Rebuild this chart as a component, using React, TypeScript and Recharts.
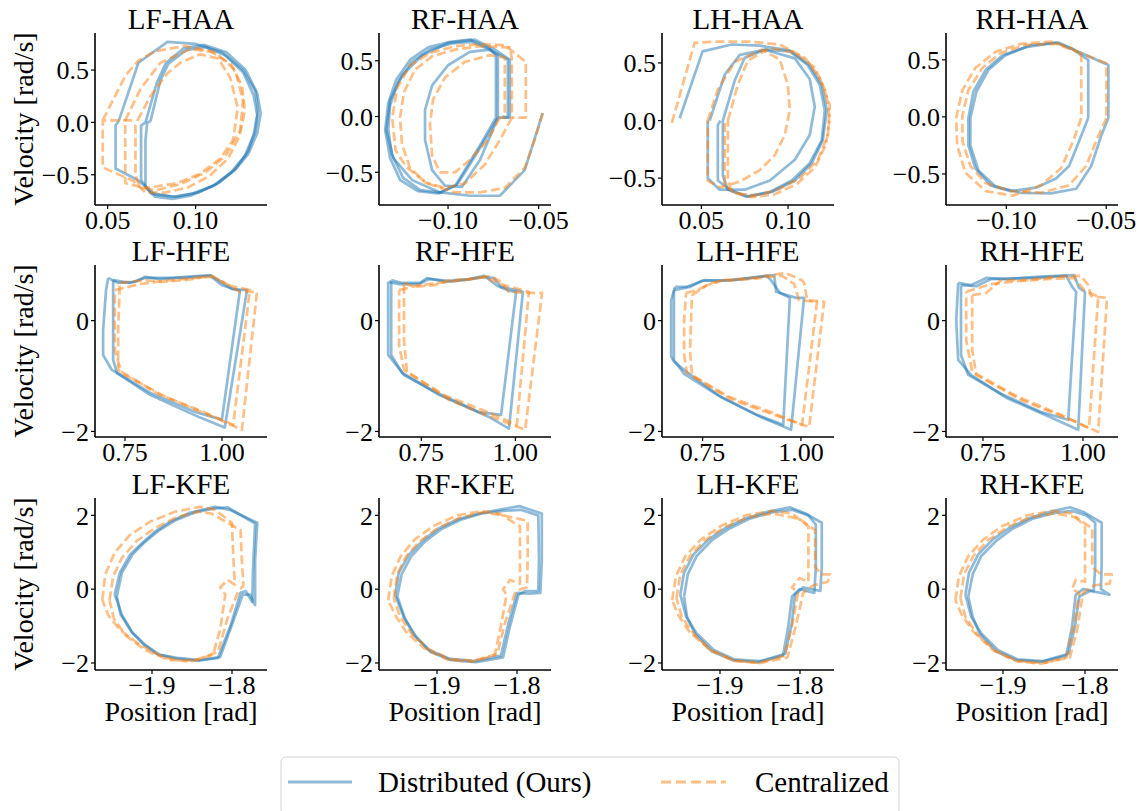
import React from 'react';
import { ScatterChart, Scatter, XAxis, YAxis } from 'recharts';

type P = [number, number];

const FONT = '"Liberation Serif", "Times New Roman", serif';
const BLUE = '#1f77b4';
const ORANGE = '#ff7f0e';

const TITLES = ['LF-HAA', 'RF-HAA', 'LH-HAA', 'RH-HAA', 'LF-HFE', 'RF-HFE', 'LH-HFE', 'RH-HFE', 'LF-KFE', 'RF-KFE', 'LH-KFE', 'RH-KFE'];
const SERIES_NAMES = ['Distributed (Ours)', 'Centralized'];
const Y_LABEL = 'Velocity [rad/s]';
const X_LABEL = 'Position [rad]';

// ---------- HAA ----------
const LF_HAA_dist: P[][] = [
  [[0.0562,0.01],[0.0675,0.57],[0.084,0.77],[0.0998,0.75],[0.115,0.67],[0.127,0.50],[0.134,0.30],[0.1355,0.11],[0.134,-0.08],[0.130,-0.27],[0.123,-0.44],[0.113,-0.58],[0.1015,-0.67],[0.089,-0.71],[0.077,-0.69],[0.067,-0.55],[0.0545,-0.44],[0.0545,-0.03],[0.0562,0.01]],
  [[0.0743,0.01],[0.080,0.40],[0.0845,0.56],[0.0945,0.69],[0.1055,0.72],[0.117,0.64],[0.127,0.48],[0.133,0.26],[0.135,0.07],[0.133,-0.12],[0.128,-0.32],[0.120,-0.48],[0.1095,-0.61],[0.097,-0.70],[0.087,-0.73],[0.077,-0.71],[0.0715,-0.62],[0.0715,-0.17],[0.0725,0.0],[0.0743,0.01]],
  [[0.0715,0.0],[0.078,0.38],[0.0832,0.57],[0.0934,0.71],[0.105,0.74],[0.1175,0.67],[0.1285,0.50],[0.135,0.28],[0.137,0.085],[0.135,-0.105],[0.130,-0.30],[0.122,-0.46],[0.111,-0.60],[0.098,-0.68],[0.087,-0.71],[0.0745,-0.675],[0.069,-0.55],[0.069,-0.03],[0.0715,0.0]],
];
const LF_HAA_cent: P[][] = [
  [[0.0472,0.02],[0.0602,0.45],[0.0675,0.59],[0.077,0.68],[0.094,0.73],[0.1083,0.68],[0.120,0.56],[0.1264,0.35],[0.128,0.11],[0.125,-0.13],[0.1185,-0.345],[0.108,-0.51],[0.0958,-0.62],[0.0828,-0.67],[0.0715,-0.67],[0.0647,-0.56],[0.0472,-0.43],[0.0472,0.02],[0.066,0.02]],
  [[0.067,0.02],[0.0743,0.25],[0.084,0.47],[0.0913,0.57],[0.1026,0.65],[0.1128,0.61],[0.1196,0.43],[0.124,0.14],[0.1213,-0.17],[0.114,-0.345],[0.1026,-0.49],[0.0896,-0.58],[0.0783,-0.61],[0.0687,-0.63],[0.0658,-0.51],[0.0658,-0.03],[0.067,0.02]],
  [[0.060,0.02],[0.0687,0.32],[0.080,0.57],[0.097,0.70],[0.111,0.67],[0.1225,0.50],[0.127,0.21],[0.1253,-0.08],[0.117,-0.32],[0.1055,-0.48],[0.0913,-0.59],[0.077,-0.65],[0.060,-0.58],[0.060,-0.03],[0.060,0.02]],
];

const RF_HAA_dist: P[][] = [
  [[-0.0725,-0.01],[-0.0797,-0.21],[-0.088,-0.43],[-0.095,-0.61],[-0.1044,-0.68],[-0.1154,-0.66],[-0.1248,-0.55],[-0.131,-0.34],[-0.133,-0.12],[-0.132,0.10],[-0.1275,0.31],[-0.120,0.49],[-0.110,0.60],[-0.098,0.655],[-0.087,0.67],[-0.077,0.60],[-0.0725,0.55],[-0.0725,-0.01]],
  [[-0.0736,-0.01],[-0.0813,-0.23],[-0.090,-0.46],[-0.096,-0.62],[-0.1055,-0.69],[-0.1165,-0.67],[-0.1264,-0.57],[-0.132,-0.37],[-0.1347,-0.12],[-0.133,0.12],[-0.1286,0.33],[-0.1209,0.51],[-0.111,0.62],[-0.0989,0.67],[-0.0879,0.69],[-0.078,0.62],[-0.0736,0.55],[-0.0736,-0.01]],
  [[-0.0725,-0.01],[-0.0824,-0.39],[-0.0923,-0.63],[-0.1017,-0.62],[-0.1088,-0.48],[-0.1127,-0.21],[-0.1127,0.06],[-0.1088,0.28],[-0.100,0.46],[-0.088,0.58],[-0.077,0.60],[-0.067,0.51],[-0.067,-0.01],[-0.0725,-0.01]],
  [[-0.0478,0.03],[-0.0577,-0.48],[-0.0714,-0.71],[-0.0879,-0.71],[-0.1044,-0.68],[-0.1198,-0.57],[-0.1303,-0.37],[-0.1341,-0.12],[-0.1319,0.15],[-0.1253,0.37],[-0.1143,0.55],[-0.100,0.66],[-0.0852,0.69],[-0.0742,0.60],[-0.0659,0.51],[-0.0659,-0.01],[-0.070,0.0]],
];
const RF_HAA_cent: P[][] = [
  [[-0.0648,-0.01],[-0.0714,-0.21],[-0.0797,-0.43],[-0.0907,-0.60],[-0.1017,-0.64],[-0.1127,-0.59],[-0.121,-0.46],[-0.1254,-0.25],[-0.1265,-0.01],[-0.1243,0.22],[-0.1182,0.42],[-0.1088,0.54],[-0.0962,0.60],[-0.0824,0.63],[-0.0659,0.62],[-0.0648,0.52],[-0.0648,-0.01]],
  [[-0.0714,-0.01],[-0.078,-0.21],[-0.088,-0.39],[-0.0962,-0.50],[-0.1044,-0.50],[-0.1088,-0.35],[-0.110,-0.07],[-0.1083,0.15],[-0.1017,0.35],[-0.0907,0.49],[-0.077,0.55],[-0.0687,0.53],[-0.0687,-0.01],[-0.0714,-0.01]],
  [[-0.0478,0.03],[-0.0522,-0.21],[-0.0577,-0.46],[-0.0687,-0.64],[-0.0824,-0.68],[-0.0962,-0.68],[-0.1115,-0.60],[-0.1232,-0.45],[-0.129,-0.30],[-0.1308,-0.01],[-0.128,0.26],[-0.1209,0.46],[-0.110,0.57],[-0.0962,0.63],[-0.0824,0.65],[-0.0687,0.64],[-0.0571,0.49],[-0.0571,-0.01],[-0.0648,-0.01]],
];

const LH_HAA_dist: P[][] = [
  [[0.0375,0.02],[0.0507,0.60],[0.0675,0.66],[0.0837,0.65],[0.101,0.61],[0.1125,0.48],[0.1195,0.31],[0.1224,0.09],[0.120,-0.17],[0.1137,-0.37],[0.1039,-0.52],[0.0906,-0.62],[0.0768,-0.66],[0.0664,-0.60],[0.0595,-0.52],[0.0595,-0.04],[0.061,0.0]],
  [[0.0624,0.0],[0.0693,0.35],[0.075,0.545],[0.0866,0.615],[0.101,0.60],[0.1114,0.48],[0.1183,0.31],[0.1212,0.09],[0.1195,-0.17],[0.1125,-0.37],[0.1022,-0.52],[0.0895,-0.62],[0.0757,-0.66],[0.0653,-0.60],[0.0624,-0.48],[0.0624,0.0]],
  [[0.0548,0.0],[0.0635,0.40],[0.0722,0.57],[0.0866,0.615],[0.1039,0.54],[0.1125,0.36],[0.1154,0.12],[0.1125,-0.125],[0.1039,-0.34],[0.0895,-0.52],[0.0751,-0.60],[0.0606,-0.60],[0.0537,-0.50],[0.0537,0.0]],
];
const LH_HAA_cent: P[][] = [
  [[0.033,-0.02],[0.0461,0.675],[0.0594,0.685],[0.0779,0.685],[0.0952,0.66],[0.1097,0.545],[0.1183,0.37],[0.1241,0.135],[0.123,-0.125],[0.1172,-0.34],[0.1068,-0.50],[0.0941,-0.60],[0.081,-0.65],[0.0693,-0.63],[0.0635,-0.56],[0.0635,-0.01]],
  [[0.0537,0.0],[0.0595,0.27],[0.0693,0.51],[0.0849,0.615],[0.0952,0.53],[0.0999,0.31],[0.101,0.09],[0.0981,-0.125],[0.0924,-0.30],[0.0837,-0.43],[0.0722,-0.53],[0.0606,-0.58],[0.0537,-0.52],[0.0537,0.0]],
  [[0.0653,0.0],[0.071,0.31],[0.0768,0.52],[0.0895,0.63],[0.1039,0.59],[0.1154,0.46],[0.1218,0.25],[0.1241,0.02],[0.1218,-0.21],[0.1154,-0.41],[0.1051,-0.55],[0.0924,-0.64],[0.0791,-0.665],[0.0676,-0.62],[0.0653,-0.52],[0.0653,0.0]],
];

const RH_HAA_dist: P[][] = [
  [[-0.059,-0.01],[-0.0635,-0.21],[-0.0686,-0.43],[-0.0751,-0.54],[-0.0852,-0.62],[-0.0978,-0.65],[-0.1079,-0.60],[-0.1155,-0.45],[-0.119,-0.25],[-0.119,-0.01],[-0.1165,0.22],[-0.1104,0.41],[-0.1019,0.54],[-0.0903,0.61],[-0.0751,0.65],[-0.0665,0.59],[-0.059,0.50],[-0.059,-0.01]],
  [[-0.0489,-0.01],[-0.0524,-0.16],[-0.0575,-0.43],[-0.065,-0.63],[-0.0777,-0.67],[-0.0928,-0.665],[-0.1054,-0.61],[-0.114,-0.47],[-0.118,-0.25],[-0.118,-0.01],[-0.115,0.22],[-0.109,0.41],[-0.1004,0.54],[-0.0878,0.63],[-0.0736,0.65],[-0.0625,0.56],[-0.0524,0.48],[-0.0489,0.455],[-0.0489,-0.01]],
];
const RH_HAA_cent: P[][] = [
  [[-0.0625,-0.01],[-0.0665,-0.21],[-0.0726,-0.45],[-0.0827,-0.60],[-0.0968,-0.69],[-0.1104,-0.65],[-0.1205,-0.49],[-0.1246,-0.25],[-0.1251,-0.01],[-0.122,0.235],[-0.1155,0.43],[-0.1054,0.57],[-0.0928,0.64],[-0.0777,0.66],[-0.0675,0.605],[-0.0625,0.54],[-0.0625,-0.01]],
  [[-0.0499,-0.01],[-0.055,-0.21],[-0.060,-0.43],[-0.0686,-0.60],[-0.0827,-0.665],[-0.0978,-0.65],[-0.1104,-0.58],[-0.118,-0.43],[-0.122,-0.21],[-0.122,0.01],[-0.119,0.235],[-0.1119,0.43],[-0.1029,0.56],[-0.0903,0.63],[-0.0751,0.64],[-0.060,0.54],[-0.0499,0.47],[-0.0499,-0.01]],
];

// ---------- HFE ----------
const LF_HFE_dist: P[][] = [
  [[0.7065,0.77],[0.7324,0.68],[0.7755,0.70],[0.8014,0.79],[0.8402,0.75],[0.9049,0.79],[0.9695,0.82],[0.9954,0.71],[1.0256,0.57],[1.0644,0.55],[1.0072,-1.93],[0.9437,-1.75],[0.8143,-1.34],[0.7367,-0.98],[0.7162,-0.89],[0.6936,-0.62],[0.6936,-0.17],[0.7012,0.55],[0.7065,0.77]],
  [[0.7195,0.73],[0.7626,0.68],[0.8014,0.77],[0.9049,0.77],[0.9695,0.81],[0.9997,0.64],[1.0461,0.54],[0.9997,-1.79],[0.9307,-1.65],[0.8143,-1.30],[0.7292,-0.94],[0.7195,-0.71],[0.7195,0.73]],
];
const LF_HFE_cent: P[][] = [
  [[0.7367,0.68],[0.8014,0.73],[0.8402,0.70],[0.9049,0.73],[0.9738,0.81],[1.0072,0.68],[1.0461,0.52],[1.0902,0.52],[1.0514,-1.97],[0.9825,-1.75],[0.8531,-1.37],[0.7497,-0.98],[0.7324,-0.89],[0.7324,-0.17],[0.7367,0.68]],
  [[0.7238,0.55],[0.7885,0.66],[0.8531,0.72],[0.9307,0.77],[0.9771,0.79],[1.0159,0.64],[1.0719,0.55],[1.0288,-1.88],[0.9566,-1.66],[0.8402,-1.34],[0.7400,-0.92],[0.7238,-0.53],[0.7238,0.55]],
];
const RF_HFE_dist: P[][] = [
  [[0.670,0.73],[0.699,0.68],[0.747,0.68],[0.765,0.77],[0.816,0.70],[0.863,0.73],[0.922,0.79],[0.943,0.77],[0.962,0.61],[1.002,0.55],[1.020,0.52],[0.983,-1.95],[0.933,-1.75],[0.797,-1.34],[0.699,-0.94],[0.670,-0.62],[0.670,0.37],[0.670,0.73]],
  [[0.662,0.70],[0.691,0.66],[0.744,0.66],[0.771,0.75],[0.824,0.72],[0.877,0.75],[0.917,0.81],[0.951,0.63],[0.983,0.54],[1.002,0.52],[0.962,-1.70],[0.903,-1.65],[0.797,-1.32],[0.704,-0.98],[0.662,-0.62],[0.662,0.70]],
];
const RF_HFE_cent: P[][] = [
  [[0.704,0.68],[0.731,0.61],[0.784,0.64],[0.824,0.73],[0.877,0.75],[0.930,0.80],[0.956,0.73],[0.983,0.52],[1.036,0.50],[1.071,0.50],[1.026,-1.97],[0.956,-1.79],[0.824,-1.43],[0.712,-0.92],[0.704,-0.35],[0.704,0.68]],
  [[0.691,0.55],[0.744,0.64],[0.797,0.68],[0.850,0.72],[0.917,0.79],[0.970,0.64],[1.036,0.52],[1.004,-1.88],[0.930,-1.66],[0.810,-1.34],[0.704,-0.89],[0.691,-0.44],[0.691,0.55]],
];
const LH_HFE_dist: P[][] = [
  [[0.680,0.61],[0.710,0.61],[0.736,0.68],[0.754,0.73],[0.799,0.72],[0.850,0.75],[0.932,0.82],[0.937,0.52],[0.988,0.41],[1.008,0.41],[0.975,-1.97],[0.901,-1.75],[0.799,-1.39],[0.708,-0.92],[0.677,-0.74],[0.670,-0.65],[0.670,0.37],[0.680,0.61]],
  [[0.677,0.55],[0.718,0.61],[0.749,0.72],[0.825,0.73],[0.914,0.81],[0.927,0.70],[0.947,0.50],[0.972,0.41],[0.955,-1.88],[0.888,-1.70],[0.787,-1.34],[0.703,-0.96],[0.677,-0.71],[0.677,0.55]],
];
const LH_HFE_cent: P[][] = [
  [[0.708,0.50],[0.736,0.55],[0.774,0.68],[0.802,0.73],[0.876,0.77],[0.960,0.86],[1.003,0.73],[1.008,0.68],[1.016,0.37],[1.059,0.34],[1.021,-1.92],[0.952,-1.75],[0.825,-1.43],[0.710,-0.94],[0.703,-0.62],[0.703,0.01],[0.708,0.50]],
  [[0.723,0.46],[0.761,0.64],[0.799,0.72],[0.876,0.75],[0.952,0.81],[0.983,0.66],[0.995,0.37],[1.041,0.34],[1.003,-1.88],[0.927,-1.66],[0.812,-1.36],[0.723,-0.98],[0.718,-0.53],[0.723,0.46]],
];
const RH_HFE_dist: P[][] = [
  [[0.688,0.68],[0.720,0.64],[0.758,0.77],[0.808,0.75],[0.883,0.79],[0.978,0.82],[0.990,0.59],[1.005,0.52],[0.988,-1.97],[0.920,-1.75],[0.808,-1.39],[0.720,-0.98],[0.688,-0.71],[0.683,0.01],[0.688,0.68]],
  [[0.695,0.64],[0.733,0.62],[0.770,0.75],[0.883,0.77],[0.958,0.81],[0.973,0.61],[0.983,0.52],[0.963,-1.79],[0.895,-1.65],[0.795,-1.32],[0.713,-0.98],[0.695,-0.62],[0.695,0.64]],
];
const RH_HFE_cent: P[][] = [
  [[0.723,0.46],[0.758,0.50],[0.795,0.73],[0.858,0.73],[0.933,0.79],[0.995,0.81],[1.013,0.64],[1.020,0.44],[1.060,0.41],[1.038,-2.01],[0.970,-1.79],[0.845,-1.43],[0.733,-0.98],[0.723,-0.53],[0.723,0.46]],
  [[0.708,0.52],[0.770,0.66],[0.833,0.71],[0.908,0.75],[0.978,0.77],[1.003,0.55],[1.038,0.43],[1.015,-1.94],[0.945,-1.70],[0.833,-1.36],[0.723,-0.92],[0.708,-0.35],[0.708,0.52]],
];

// ---------- KFE ----------
const LF_KFE_dist: P[][] = [
  [[-1.9467,-0.15],[-1.9403,0.44],[-1.9276,0.93],[-1.9148,1.20],[-1.8967,1.55],[-1.8775,1.83],[-1.853,2.07],[-1.8211,2.23],[-1.8029,2.15],[-1.7684,1.80],[-1.7711,0.79],[-1.7711,-0.43],[-1.7775,-0.15],[-1.7866,-0.15],[-1.8002,-0.97],[-1.8148,-1.84],[-1.8403,-1.92],[-1.8685,-1.86],[-1.8903,-1.78],[-1.9085,-1.51],[-1.924,-1.19],[-1.9376,-0.70],[-1.944,-0.29],[-1.9467,-0.15]],
  [[-1.944,-0.20],[-1.9376,0.45],[-1.924,0.95],[-1.9103,1.25],[-1.8921,1.58],[-1.8712,1.86],[-1.8466,2.08],[-1.8239,2.18],[-1.8057,2.22],[-1.7711,1.78],[-1.7738,0.5],[-1.7747,-0.35],[-1.7829,-0.05],[-1.7893,-0.10],[-1.802,-1.0],[-1.8175,-1.86],[-1.8421,-1.94],[-1.8712,-1.88],[-1.8939,-1.76],[-1.9112,-1.48],[-1.9258,-1.15],[-1.9394,-0.68],[-1.944,-0.20]],
];
const LF_KFE_cent: P[][] = [
  [[-1.9621,-0.29],[-1.9585,0.39],[-1.9467,0.99],[-1.9276,1.47],[-1.9021,1.83],[-1.8712,2.10],[-1.8403,2.23],[-1.8211,2.15],[-1.8002,1.80],[-1.7984,0.93],[-1.7966,0.12],[-1.8057,0.25],[-1.8148,0.05],[-1.8084,-0.15],[-1.8148,-1.10],[-1.8239,-1.78],[-1.853,-1.97],[-1.884,-1.86],[-1.9148,-1.51],[-1.9403,-1.10],[-1.9549,-0.70],[-1.9621,-0.29]],
  [[-1.9531,-0.30],[-1.9485,0.35],[-1.9376,0.85],[-1.9194,1.30],[-1.8967,1.65],[-1.8694,1.95],[-1.8421,2.10],[-1.8257,2.05],[-1.7893,1.60],[-1.7875,0.70],[-1.7857,0.10],[-1.792,-0.05],[-1.8057,-0.80],[-1.8175,-1.70],[-1.8466,-1.93],[-1.8785,-1.92],[-1.9085,-1.65],[-1.933,-1.25],[-1.9476,-0.80],[-1.9531,-0.30]],
];
const RF_KFE_dist: P[][] = [
  [[-1.9522,-0.15],[-1.9478,0.45],[-1.9346,0.95],[-1.9161,1.35],[-1.8976,1.65],[-1.873,1.90],[-1.8474,2.05],[-1.8227,2.15],[-1.7972,2.25],[-1.769,2.05],[-1.769,0.8],[-1.7708,-0.10],[-1.7849,-0.12],[-1.7998,-0.10],[-1.8104,-0.9],[-1.8201,-1.80],[-1.8536,-1.95],[-1.8853,-1.88],[-1.91,-1.65],[-1.9285,-1.25],[-1.9417,-0.75],[-1.9522,-0.15]],
  [[-1.9496,-0.20],[-1.9443,0.40],[-1.932,0.90],[-1.9144,1.30],[-1.895,1.62],[-1.8703,1.88],[-1.8439,2.05],[-1.8175,2.12],[-1.7954,2.15],[-1.7734,2.0],[-1.7725,0.8],[-1.7734,-0.05],[-1.7893,-0.05],[-1.7981,-0.15],[-1.8087,-1.0],[-1.8175,-1.85],[-1.8509,-1.98],[-1.8826,-1.92],[-1.9082,-1.70],[-1.9258,-1.30],[-1.9399,-0.80],[-1.9496,-0.20]],
];
const RF_KFE_cent: P[][] = [
  [[-1.961,-0.30],[-1.9566,0.35],[-1.9452,0.90],[-1.9276,1.35],[-1.9038,1.72],[-1.8747,2.00],[-1.8439,2.12],[-1.8219,2.05],[-1.7963,1.70],[-1.7963,0.80],[-1.7963,0.15],[-1.8087,0.25],[-1.8175,0.0],[-1.8131,-0.15],[-1.8201,-1.0],[-1.828,-1.80],[-1.8571,-1.97],[-1.8879,-1.90],[-1.9161,-1.60],[-1.939,-1.15],[-1.9522,-0.70],[-1.961,-0.30]],
  [[-1.954,-0.25],[-1.9496,0.40],[-1.939,0.88],[-1.9214,1.30],[-1.8994,1.65],[-1.8721,1.93],[-1.8421,2.08],[-1.8175,2.00],[-1.7866,1.85],[-1.7866,0.90],[-1.7875,0.05],[-1.8016,-0.05],[-1.8148,-0.9],[-1.8245,-1.75],[-1.8527,-1.93],[-1.8835,-1.90],[-1.9108,-1.62],[-1.932,-1.20],[-1.9461,-0.75],[-1.954,-0.25]],
];
const LH_KFE_dist: P[][] = [
  [[-1.9496,-0.15],[-1.9449,0.45],[-1.9328,0.95],[-1.9142,1.35],[-1.8938,1.65],[-1.8677,1.92],[-1.8398,2.10],[-1.8128,2.22],[-1.7932,2.05],[-1.7728,1.80],[-1.7728,0.60],[-1.7746,-0.05],[-1.796,0.05],[-1.8063,-0.15],[-1.81,-0.9],[-1.8184,-1.75],[-1.85,-1.95],[-1.8826,-1.90],[-1.9077,-1.65],[-1.9291,-1.20],[-1.9422,-0.75],[-1.9496,-0.15]],
  [[-1.9449,-0.20],[-1.9403,0.40],[-1.9291,0.90],[-1.9105,1.32],[-1.89,1.62],[-1.864,1.90],[-1.836,2.08],[-1.81,2.15],[-1.7895,2.0],[-1.7802,1.75],[-1.7802,0.60],[-1.7821,-0.10],[-1.8007,0.0],[-1.81,-0.20],[-1.8146,-1.0],[-1.8212,-1.80],[-1.8528,-1.98],[-1.8844,-1.92],[-1.9105,-1.68],[-1.931,-1.22],[-1.9412,-0.75],[-1.9449,-0.20]],
];
const LH_KFE_cent: P[][] = [
  [[-1.9598,-0.30],[-1.9552,0.35],[-1.9431,0.90],[-1.9235,1.35],[-1.8984,1.72],[-1.8677,2.00],[-1.836,2.12],[-1.81,2.05],[-1.7895,1.70],[-1.7895,0.80],[-1.7895,0.20],[-1.8007,0.30],[-1.81,0.05],[-1.8025,-0.10],[-1.81,-1.0],[-1.8193,-1.80],[-1.8519,-2.0],[-1.8844,-1.92],[-1.9142,-1.62],[-1.9384,-1.15],[-1.9524,-0.70],[-1.9598,-0.30]],
  [[-1.9543,-0.25],[-1.9496,0.40],[-1.9375,0.90],[-1.9189,1.32],[-1.8938,1.68],[-1.864,1.95],[-1.8333,2.05],[-1.8007,1.90],[-1.7811,1.60],[-1.7811,0.60],[-1.7728,0.40],[-1.7625,0.40],[-1.7653,0.20],[-1.7839,0.10],[-1.796,-0.10],[-1.8053,-1.0],[-1.8156,-1.85],[-1.8491,-2.0],[-1.8807,-1.95],[-1.9096,-1.68],[-1.9328,-1.22],[-1.9477,-0.75],[-1.9543,-0.25]],
];
const RH_KFE_dist: P[][] = [
  [[-1.9458,-0.15],[-1.9414,0.45],[-1.9299,0.95],[-1.9124,1.35],[-1.893,1.65],[-1.8684,1.92],[-1.842,2.10],[-1.8183,2.22],[-1.8025,2.10],[-1.7796,1.80],[-1.7796,0.70],[-1.7805,0.0],[-1.77,-0.15],[-1.7805,-0.10],[-1.7937,-0.05],[-1.8069,-0.20],[-1.8122,-1.0],[-1.8201,-1.75],[-1.8508,-1.95],[-1.8825,-1.90],[-1.9062,-1.65],[-1.9264,-1.20],[-1.9387,-0.75],[-1.9458,-0.15]],
  [[-1.9423,-0.20],[-1.937,0.40],[-1.9264,0.90],[-1.9088,1.30],[-1.8895,1.62],[-1.8649,1.90],[-1.8385,2.06],[-1.8157,2.12],[-1.7981,2.0],[-1.7875,1.80],[-1.7875,0.60],[-1.7893,-0.05],[-1.8025,0.0],[-1.8113,-0.15],[-1.8157,-1.0],[-1.8227,-1.80],[-1.8535,-1.97],[-1.8842,-1.92],[-1.9088,-1.68],[-1.9282,-1.22],[-1.937,-0.75],[-1.9423,-0.20]],
];
const RH_KFE_cent: P[][] = [
  [[-1.9581,-0.30],[-1.9537,0.35],[-1.9423,0.90],[-1.9238,1.35],[-1.9001,1.72],[-1.8702,2.00],[-1.8403,2.12],[-1.8157,2.05],[-1.7999,1.70],[-1.7999,0.80],[-1.7999,0.20],[-1.8113,0.25],[-1.8157,0.0],[-1.8069,-0.10],[-1.8139,-1.0],[-1.8227,-1.85],[-1.8535,-2.02],[-1.8842,-1.95],[-1.9124,-1.65],[-1.9361,-1.15],[-1.9502,-0.70],[-1.9581,-0.30]],
  [[-1.9519,-0.25],[-1.9475,0.40],[-1.9361,0.90],[-1.9185,1.32],[-1.8948,1.68],[-1.8667,1.95],[-1.8376,2.05],[-1.8113,1.95],[-1.7911,1.65],[-1.7911,0.60],[-1.7805,0.40],[-1.7673,0.40],[-1.77,0.15],[-1.7893,0.10],[-1.8025,-0.10],[-1.8086,-1.0],[-1.8183,-1.85],[-1.8508,-2.0],[-1.8816,-1.95],[-1.9088,-1.68],[-1.9317,-1.22],[-1.9458,-0.75],[-1.9519,-0.25]],
];

// ---------- axes ----------
const HAA_Y_TICKS = [-0.5, 0, 0.5];
const HFE_Y_TICKS = [-2, 0];
const KFE_Y_TICKS = [-2, 0, 2];
const HAA_POS_X_TICKS = [0.05, 0.1];
const HAA_NEG_X_TICKS = [-0.1, -0.05];
const HFE_X_TICKS = [0.75, 1.0];
const KFE_X_TICKS = [-1.9, -1.8];

const X_DOMAINS: [number, number][] = [
  [0.0428, 0.1406], [-0.1381, -0.0432], [0.0273, 0.1265], [-0.1302, -0.0441],
  [0.6727, 1.116], [0.6376, 1.0947], [0.6467, 1.0842], [0.6575, 1.0875],
  [-1.97125, -1.75625], [-1.9725, -1.7575], [-1.9725, -1.7575], [-1.9695, -1.7597],
];
const Y_DOMAINS: [number, number][] = [
  [-0.789, 0.854], [-0.793, 0.749], [-0.733, 0.76], [-0.772, 0.735],
  [-2.1, 1.004], [-2.1, 1.004], [-2.1, 1.004], [-2.1, 1.004],
  [-2.19, 2.47], [-2.19, 2.47], [-2.19, 2.47], [-2.19, 2.47],
];

const DIST = [LF_HAA_dist, RF_HAA_dist, LH_HAA_dist, RH_HAA_dist, LF_HFE_dist, RF_HFE_dist, LH_HFE_dist, RH_HFE_dist, LF_KFE_dist, RF_KFE_dist, LH_KFE_dist, RH_KFE_dist];
const CENT = [LF_HAA_cent, RF_HAA_cent, LH_HAA_cent, RH_HAA_cent, LF_HFE_cent, RF_HFE_cent, LH_HFE_cent, RH_HFE_cent, LF_KFE_cent, RF_KFE_cent, LH_KFE_cent, RH_KFE_cent];
const X_TICKS = [HAA_POS_X_TICKS, HAA_NEG_X_TICKS, HAA_POS_X_TICKS, HAA_NEG_X_TICKS, HFE_X_TICKS, HFE_X_TICKS, HFE_X_TICKS, HFE_X_TICKS, KFE_X_TICKS, KFE_X_TICKS, KFE_X_TICKS, KFE_X_TICKS];
const Y_TICKS = [HAA_Y_TICKS, HAA_Y_TICKS, HAA_Y_TICKS, HAA_Y_TICKS, HFE_Y_TICKS, HFE_Y_TICKS, HFE_Y_TICKS, HFE_Y_TICKS, KFE_Y_TICKS, KFE_Y_TICKS, KFE_Y_TICKS, KFE_Y_TICKS];
const X_DEC = [2, 2, 1];
const Y_DEC = [1, 0, 0];

// ---------- layout ----------
const COL_LEFT = [95, 379, 662, 946];
const ROW_TOP = [33, 265, 498];
const PW = 172;
const PH = 172;
const ML = 80;
const MR = 30;
const MT = 6;
const XH = 40;

const fmt = (dec: number) => (v: number) => {
  const s = Math.abs(v).toFixed(dec);
  return v < 0 ? '\u2212' + s : s;
};

const noShape = () => <g />;

function Panel({ idx }: { idx: number }) {
  const row = Math.floor(idx / 4);
  const col = idx % 4;
  const left = COL_LEFT[col];
  const top = ROW_TOP[row];
  const tickStyle = { fill: '#000', fontSize: 26, fontFamily: FONT };
  return (
    <div style={{ position: 'absolute', left: left - ML, top: top - MT }}>
      <ScatterChart width={PW + ML + MR} height={PH + MT + XH} margin={{ top: MT, right: MR, bottom: 0, left: 0 }}>
        <XAxis type="number" dataKey="x" domain={X_DOMAINS[idx]} ticks={X_TICKS[idx]} allowDataOverflow
          height={XH} tickFormatter={fmt(X_DEC[row])} tick={tickStyle} tickSize={4} tickMargin={2}
          axisLine={{ stroke: '#000', strokeWidth: 1.6 }} tickLine={{ stroke: '#000', strokeWidth: 1.2 }} interval={0} />
        <YAxis type="number" dataKey="y" domain={Y_DOMAINS[idx]} ticks={Y_TICKS[idx]} allowDataOverflow
          width={ML} tickFormatter={fmt(Y_DEC[row])} tick={tickStyle} tickSize={4} tickMargin={2}
          axisLine={{ stroke: '#000', strokeWidth: 1.6 }} tickLine={{ stroke: '#000', strokeWidth: 1.2 }} interval={0} />
        {DIST[idx].map((loop, i) => (
          <Scatter key={'d' + i} name={SERIES_NAMES[0]} data={loop.map(([x, y]) => ({ x, y }))} fill={BLUE}
            shape={noShape} isAnimationActive={false} legendType="none"
            line={{ stroke: BLUE, strokeWidth: 2.7, strokeOpacity: 0.5, strokeLinejoin: 'round' }} />
        ))}
        {CENT[idx].map((loop, i) => (
          <Scatter key={'c' + i} name={SERIES_NAMES[1]} data={loop.map(([x, y]) => ({ x, y }))} fill={ORANGE}
            shape={noShape} isAnimationActive={false} legendType="none"
            line={{ stroke: ORANGE, strokeWidth: 2.7, strokeOpacity: 0.5, strokeDasharray: '9 4', strokeLinejoin: 'round' }} />
        ))}
      </ScatterChart>
    </div>
  );
}

export default function App() {
  return (
    <div style={{ position: 'absolute', left: 0, top: 0, width: 1146, height: 811, background: '#fff', overflow: 'hidden' }}>
      <svg width={1146} height={811} style={{ position: 'absolute', left: 0, top: 0 }} fontFamily={FONT}>
        {TITLES.map((t, i) => (
          <text key={t} x={COL_LEFT[i % 4] + PW / 2} y={ROW_TOP[Math.floor(i / 4)] - 4} textAnchor="middle" fontSize={29} fill="#000">{t}</text>
        ))}
        {ROW_TOP.map((t, r) => (
          <text key={'yl' + r} x={0} y={0} transform={`translate(33, ${t + PH / 2}) rotate(-90)`} textAnchor="middle" fontSize={28} fill="#000">{Y_LABEL}</text>
        ))}
        {COL_LEFT.map((l, c) => (
          <text key={'xl' + c} x={l + PW / 2} y={721} textAnchor="middle" fontSize={28} fill="#000">{X_LABEL}</text>
        ))}
        <rect x={281} y={757} width={618} height={58} rx={5} fill="#fff" stroke="#d4d4d4" strokeWidth={1} />
        <line x1={288} x2={352} y1={782} y2={782} stroke={BLUE} strokeOpacity={0.5} strokeWidth={3} />
        <text x={378} y={792} fontSize={29} fill="#000">{SERIES_NAMES[0]}</text>
        <line x1={661} x2={726} y1={782} y2={782} stroke={ORANGE} strokeOpacity={0.5} strokeWidth={3} strokeDasharray="10 5" />
        <text x={755} y={792} fontSize={29} fill="#000">{SERIES_NAMES[1]}</text>
      </svg>
      {TITLES.map((t, i) => <Panel key={t} idx={i} />)}
    </div>
  );
}
